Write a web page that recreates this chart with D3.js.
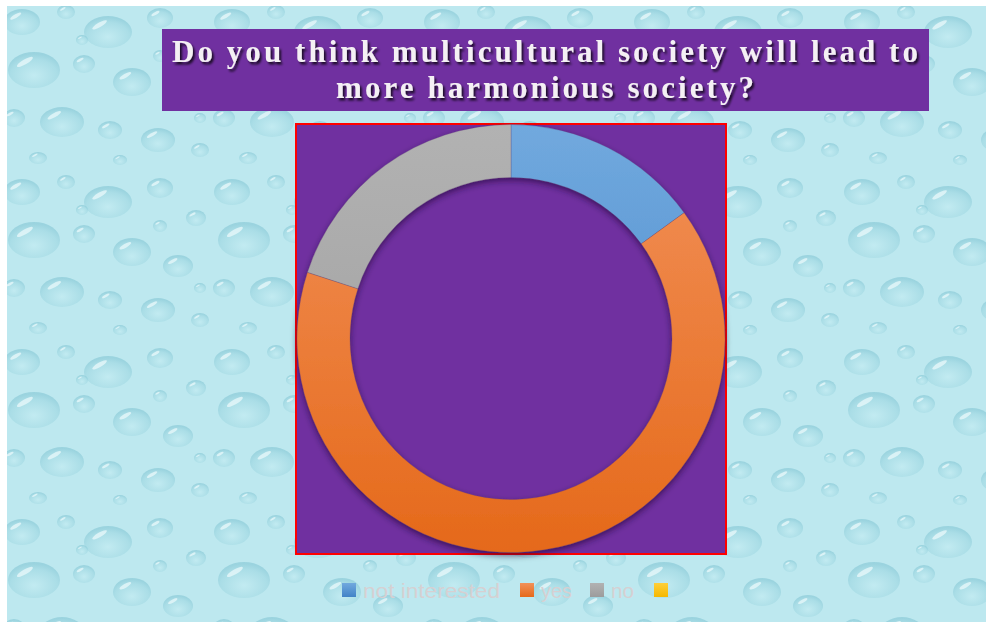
<!DOCTYPE html>
<html><head><meta charset="utf-8">
<script src="https://cdn.jsdelivr.net/npm/d3@7/dist/d3.min.js"></script>
<style>html,body{margin:0;padding:0;background:#fff;overflow:hidden}</style>
</head><body>
<script>
const categories = ["not interested", "yes", "no", ""];
const values = [15, 65, 20, 0];
const colorsTop = ["#71a9de", "#f29159", "#b2b2b2", "#ffcf3a"];
const colorsBottom = ["#4283c7", "#e5691a", "#9c9c9c", "#f5b800"];
const titleLines = ["Do you think multicultural society will lead to", "more harmonious society?"];

const W = 986, H = 622;
const svg = d3.select("body").append("svg").attr("width", W).attr("height", H);
const defs = svg.append("defs");

// droplet texture (decorative)
const dropGrad = defs.append("radialGradient").attr("id", "drop").attr("cx", "50%").attr("cy", "65%").attr("r", "60%");
dropGrad.append("stop").attr("offset", "0%").attr("stop-color", "#c4ecf2");
dropGrad.append("stop").attr("offset", "75%").attr("stop-color", "#a2d9e3");
dropGrad.append("stop").attr("offset", "100%").attr("stop-color", "#8ccbd8");
const pat = defs.append("pattern").attr("id", "water").attr("patternUnits", "userSpaceOnUse")
  .attr("width", 210).attr("height", 170);
pat.append("rect").attr("width", 210).attr("height", 170).attr("fill", "#bde8ef");
const drops = [[22,22,18,13],[66,12,9,7],[108,32,24,16],[160,18,13,10],[196,48,10,8],[34,70,26,18],[84,64,11,9],[132,82,19,14],[178,96,15,11],[14,118,11,9],[62,122,22,15],[110,130,12,9],[158,140,17,12],[200,150,9,7],[82,40,6,5],[160,56,7,6],[38,158,9,6],[120,160,7,5],[200,118,6,5]];
drops.forEach(d => {
  pat.append("ellipse").attr("cx", d[0]).attr("cy", d[1]).attr("rx", d[2]).attr("ry", d[3]).attr("fill", "url(#drop)").attr("opacity", 0.7);
  pat.append("ellipse").attr("cx", d[0] - d[2]*0.35).attr("cy", d[1] - d[3]*0.45).attr("rx", d[2]*0.35).attr("ry", d[3]*0.14)
    .attr("transform", `rotate(-30 ${d[0] - d[2]*0.35} ${d[1] - d[3]*0.45})`).attr("fill", "#eefbfd").attr("opacity", 0.7);
});
svg.append("rect").attr("x", 7).attr("y", 6).attr("width", W - 7).attr("height", H - 6).attr("fill", "url(#water)");

// shadows
const sh = defs.append("filter").attr("id", "tshadow").attr("x", "-5%").attr("y", "-20%").attr("width", "110%").attr("height", "140%");
sh.append("feDropShadow").attr("dx", 2).attr("dy", 2.5).attr("stdDeviation", 1.2).attr("flood-color", "#000").attr("flood-opacity", 0.75);
const rs = defs.append("filter").attr("id", "rshadow").attr("x", "-10%").attr("y", "-10%").attr("width", "120%").attr("height", "120%");
rs.append("feDropShadow").attr("dx", 0).attr("dy", 3).attr("stdDeviation", 3).attr("flood-color", "#1a0030").attr("flood-opacity", 0.6);

// title box
const title = svg.append("g");
title.append("rect").attr("x", 162).attr("y", 29).attr("width", 767).attr("height", 82).attr("fill", "#7030a0");
const tl = title.append("text").attr("text-anchor", "middle").attr("fill", "#f4f0f4")
  .attr("font-family", "'Liberation Serif','Times New Roman',serif").attr("font-weight", "bold")
  .attr("font-size", 31).attr("filter", "url(#tshadow)");
tl.append("tspan").attr("x", 545).attr("y", 62).attr("textLength", 746).attr("lengthAdjust", "spacing").text(titleLines[0]);
tl.append("tspan").attr("x", 545).attr("y", 98).attr("textLength", 418).attr("lengthAdjust", "spacing").text(titleLines[1]);

// plot area
const px = 296, py = 124, ps = 430;
svg.append("rect").attr("x", px).attr("y", py).attr("width", ps).attr("height", ps)
  .attr("fill", "#7030a0").attr("stroke", "#ff0000").attr("stroke-width", 2);

const cx = 511, cy = 338.5, rOuter = 214, rInner = 161;
categories.forEach((c, i) => {
  const g = defs.append("linearGradient").attr("id", "g" + i)
    .attr("gradientUnits", "userSpaceOnUse").attr("x1", 0).attr("y1", -rOuter).attr("x2", 0).attr("y2", rOuter);
  g.append("stop").attr("offset", "0%").attr("stop-color", colorsTop[i]);
  g.append("stop").attr("offset", "100%").attr("stop-color", colorsBottom[i]);
  const lg = defs.append("linearGradient").attr("id", "lg" + i).attr("x1", 0).attr("y1", 0).attr("x2", 0).attr("y2", 1);
  lg.append("stop").attr("offset", "0%").attr("stop-color", colorsTop[i]);
  lg.append("stop").attr("offset", "100%").attr("stop-color", colorsBottom[i]);
});

const pie = d3.pie().value(d => d).sort(null);
const arc = d3.arc().innerRadius(rInner).outerRadius(rOuter);
const ring = svg.append("g").attr("transform", `translate(${cx},${cy})`).attr("filter", "url(#rshadow)");
ring.selectAll("path").data(pie(values)).join("path")
  .attr("d", arc).attr("fill", (d, i) => `url(#g${i})`)
  .attr("stroke", (d, i) => d.value > 0 ? "rgba(90,60,110,0.5)" : "none").attr("stroke-width", 0.5);

// legend
const legend = svg.append("g").attr("font-family", "'Liberation Sans', Arial, sans-serif").attr("font-size", 21).attr("fill", "#d6d0d2");
const legendX = [342, 520, 590, 654];
const legendTextW = [137, 31, 23, 0];
categories.forEach((c, i) => {
  legend.append("rect").attr("x", legendX[i]).attr("y", 583).attr("width", 14).attr("height", 14).attr("fill", `url(#lg${i})`);
  if (c) legend.append("text").attr("x", legendX[i] + 21).attr("y", 598)
    .attr("textLength", legendTextW[i]).attr("lengthAdjust", "spacingAndGlyphs").text(c);
});
</script>
</body></html>
